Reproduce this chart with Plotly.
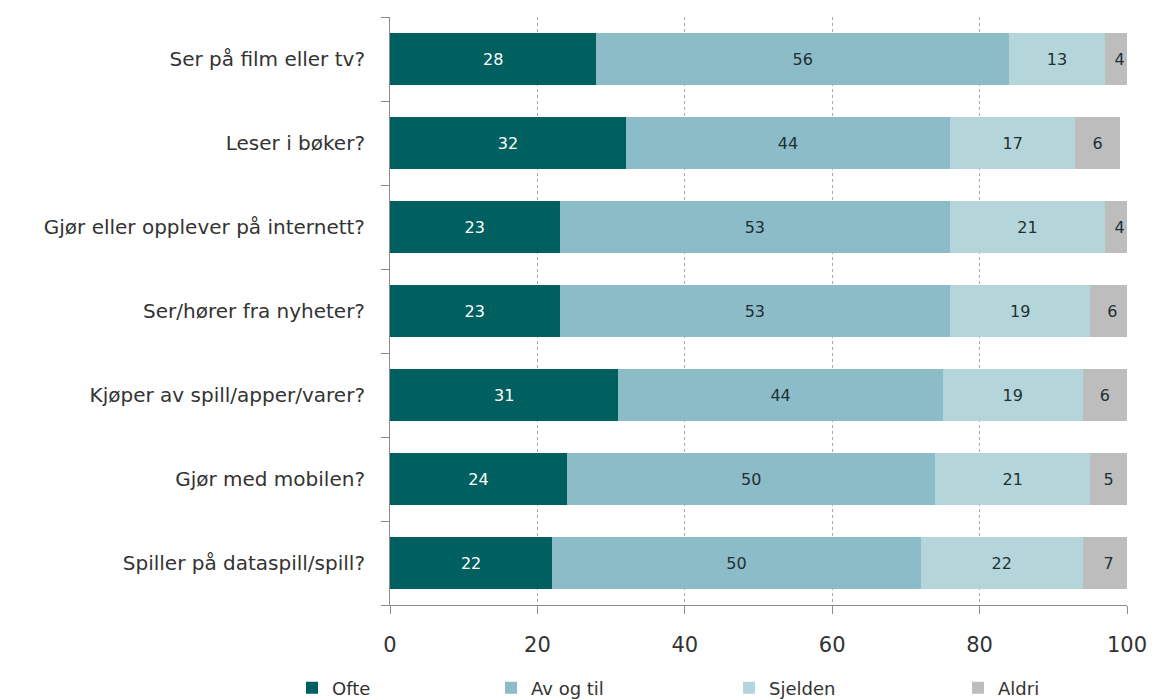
import plotly.graph_objects as go

categories = [
    "Ser på film eller tv?",
    "Leser i bøker?",
    "Gjør eller opplever på internett?",
    "Ser/hører fra nyheter?",
    "Kjøper av spill/apper/varer?",
    "Gjør med mobilen?",
    "Spiller på dataspill/spill?",
]
ofte = [28, 32, 23, 23, 31, 24, 22]
av_og_til = [56, 44, 53, 53, 44, 50, 50]
sjelden = [13, 17, 21, 19, 19, 21, 22]
aldri = [4, 6, 4, 6, 6, 5, 7]

series = [
    ("Ofte", ofte, "#00605F", "white", "legend"),
    ("Av og til", av_og_til, "#8CBCC8", "#1f2f33", "legend2"),
    ("Sjelden", sjelden, "#B4D6DB", "#1f2f33", "legend3"),
    ("Aldri", aldri, "#BDBDBD", "#1f2f33", "legend4"),
]

W, H = 1152, 699
legend_x = [292 / W, 491 / W, 729 / W, 958 / W]

font_family = "'DejaVu Sans', sans-serif"

fig = go.Figure()
for name, vals, color, tcolor, leg in series:
    fig.add_trace(go.Bar(
        y=categories, x=vals, name=name, orientation="h",
        marker=dict(color=color, line=dict(width=0)),
        text=vals, textposition="inside", insidetextanchor="middle",
        textfont=dict(color=tcolor, size=16, family=font_family),
        constraintext="none", legend=leg, showlegend=True,
    ))

legend_common = dict(
    orientation="h", xref="container", yref="container",
    xanchor="left", y=11 / H, yanchor="middle",
    font=dict(size=18, color="#333333", family=font_family),
    itemwidth=30, bgcolor="rgba(0,0,0,0)",
)

fig.update_layout(
    showlegend=True,
    barmode="stack",
    bargap=0.38,
    width=W, height=H,
    margin=dict(l=390, r=25, t=17, b=94, autoexpand=False),
    plot_bgcolor="white", paper_bgcolor="white",
    font=dict(family=font_family, color="#333333"),
    legend=dict(x=legend_x[0], **legend_common),
    legend2=dict(x=legend_x[1], **legend_common),
    legend3=dict(x=legend_x[2], **legend_common),
    legend4=dict(x=legend_x[3], **legend_common),
    xaxis=dict(
        range=[0, 100], dtick=20, tick0=0, automargin=False,
        showgrid=True, gridcolor="#A8A8A8", griddash="dot", gridwidth=1,
        showline=True, linecolor="#8C8C8C", linewidth=1,
        ticks="outside", ticklen=8, tickcolor="#8C8C8C",
        tickfont=dict(size=21, color="#333333"),
        ticklabelstandoff=13, ticklabeloverflow="allow",
        zeroline=False,
    ),
    yaxis=dict(
        categoryorder="array", categoryarray=categories[::-1], automargin=False,
        showline=True, linecolor="#8C8C8C", linewidth=1,
        ticks="outside", ticklen=8, tickcolor="#8C8C8C",
        tickson="boundaries",
        tickfont=dict(size=20, color="#333333"),
        ticklabelstandoff=20,
        showgrid=False,
    ),
)

fig.write_html(
    "out.html",
    config={"displayModeBar": False},
    post_script="document.body.style.margin='0';document.body.style.overflow='hidden';",
)
